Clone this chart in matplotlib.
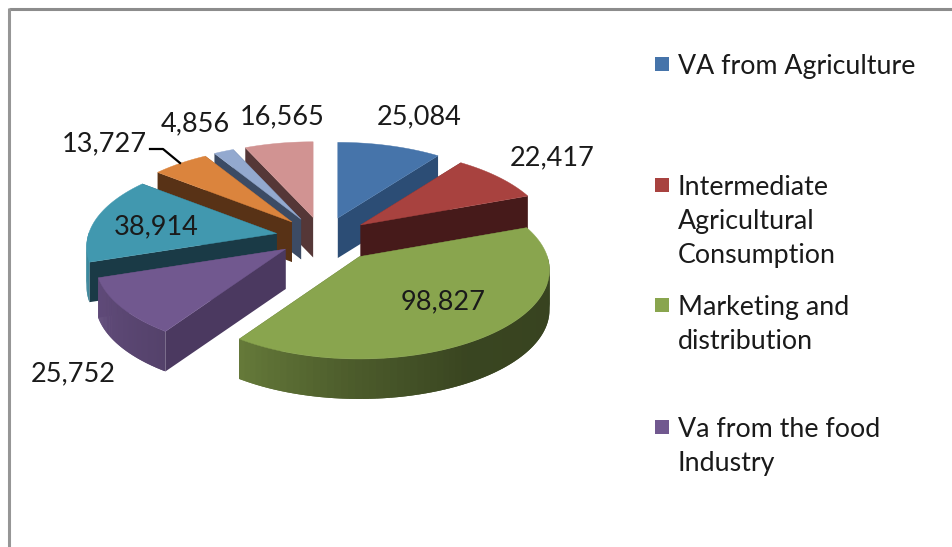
import numpy as np
import matplotlib
matplotlib.use("Agg")
import matplotlib.pyplot as plt
from matplotlib.patches import Polygon, Rectangle

# slices, clockwise from 12 o'clock
values = [25084, 22417, 98827, 25752, 38914, 13727, 4856, 16565]
value_labels = ["25,084", "22,417", "98,827", "25,752", "38,914", "13,727", "4,856", "16,565"]
colors = ["#4674AA", "#A8423F", "#89A54E", "#71588F", "#4198AF", "#DB843D", "#93A9CF", "#D19392"]
side_colors = ["#2C4D75", "#461A1A", "#3A4520", "#4B3960", "#1A3A46", "#583216", "#3C4B64", "#553737"]
explode = [1.0, 1.0, 1.25, 1.0, 1.0, 1.0, 1.0, 1.0]

label_x = [419, 552, 443, 73, 156, 104, 195, 282]
label_y = [117, 158, 302, 374, 227, 144, 124, 117]

legend_names = ["VA from Agriculture", "Intermediate\nAgricultural\nConsumption",
                "Marketing and\ndistribution", "Va from the food\nIndustry"]
legend_colors = colors[:4]
legend_y = [64, 185, 305, 427]

# pie geometry, in pixels of the picture
CX, CY = 323, 237
RX, RY = 188, 87
EX, EY = 47, 20
PERSP = 0.15
DEPTH = 40


def project(tip, theta):
    # point on the rim of a slice, seen from above with some perspective
    x, y = np.sin(theta), np.cos(theta)
    w = 1 / (1 + PERSP * y)
    return np.column_stack([tip[0] + RX * x * w, tip[1] - RY * y * w])


def wall_shade(deg):
    return np.interp(deg, [90, 150, 180, 215, 270], [0.40, 0.42, 0.55, 0.75, 0.92])


def draw_slice(ax, start, end, explode_k, color, side):
    mid = (start + end) / 2
    tip = (CX + EX * explode_k * np.sin(mid), CY - EY * explode_k * np.cos(mid))
    theta = np.linspace(start, end, 80)
    rim = project(tip, theta)
    drop = np.array([0, DEPTH])

    # flat sides
    for corner in (rim[0], rim[-1]):
        quad = [tip, corner, corner + drop, np.array(tip) + drop]
        ax.add_patch(Polygon(quad, facecolor=side, edgecolor="none"))

    # outer wall, only the part that faces the viewer
    base = np.array(matplotlib.colors.to_rgb(color))
    for i in range(len(theta) - 1):
        if np.cos(theta[i]) >= 0 and np.cos(theta[i + 1]) >= 0:
            continue
        shade = base * wall_shade(np.degrees(theta[i]))
        # reach into the next step so no seams show between the strips
        j = min(i + 2, len(theta) - 1)
        quad = [rim[i], rim[j], rim[j] + drop, rim[i] + drop]
        ax.add_patch(Polygon(quad, facecolor=shade, edgecolor="none"))

    top = np.vstack([tip, rim])
    ax.add_patch(Polygon(top, facecolor=color, edgecolor=color, lw=0.3))


def main() -> None:
    plt.rcParams["font.family"] = ["Lato", "DejaVu Sans"]
    fig = plt.figure(figsize=(9.53, 5.47), dpi=100)
    ax = fig.add_axes([0, 0, 1, 1])
    ax.set_xlim(0, 953)
    ax.set_ylim(547, 0)
    ax.axis("off")

    # chart frame, only top and left are in the picture
    ax.plot([9, 953], [9, 9], color="#8C8C8C", lw=2.2, solid_capstyle="butt")
    ax.plot([9, 9], [8, 547], color="#969696", lw=2.2, solid_capstyle="butt")

    angles = np.cumsum([0] + values) / sum(values) * 2 * np.pi
    slices = list(range(len(values)))
    # back slices first so the front ones cover them
    slices.sort(key=lambda i: -np.cos((angles[i] + angles[i + 1]) / 2) * explode[i])
    for i in slices:
        draw_slice(ax, angles[i], angles[i + 1], explode[i], colors[i], side_colors[i])

    # leader line for 13,727
    ax.plot([150, 163, 180], [149, 149, 163], color="black", lw=1.6)

    for x, y, text in zip(label_x, label_y, value_labels):
        ax.text(x, y, text, ha="center", va="center", fontsize=19.5, color="#1A1A1A")

    for y, name, color in zip(legend_y, legend_names, legend_colors):
        ax.add_patch(Rectangle((655, y - 7), 14, 14, facecolor=color, edgecolor="none"))
        ax.text(678, y - 10, name, ha="left", va="top", fontsize=19.25, color="#1A1A1A", linespacing=1.45)

    fig.savefig("out.png", dpi=100)


if __name__ == "__main__":
    main()
